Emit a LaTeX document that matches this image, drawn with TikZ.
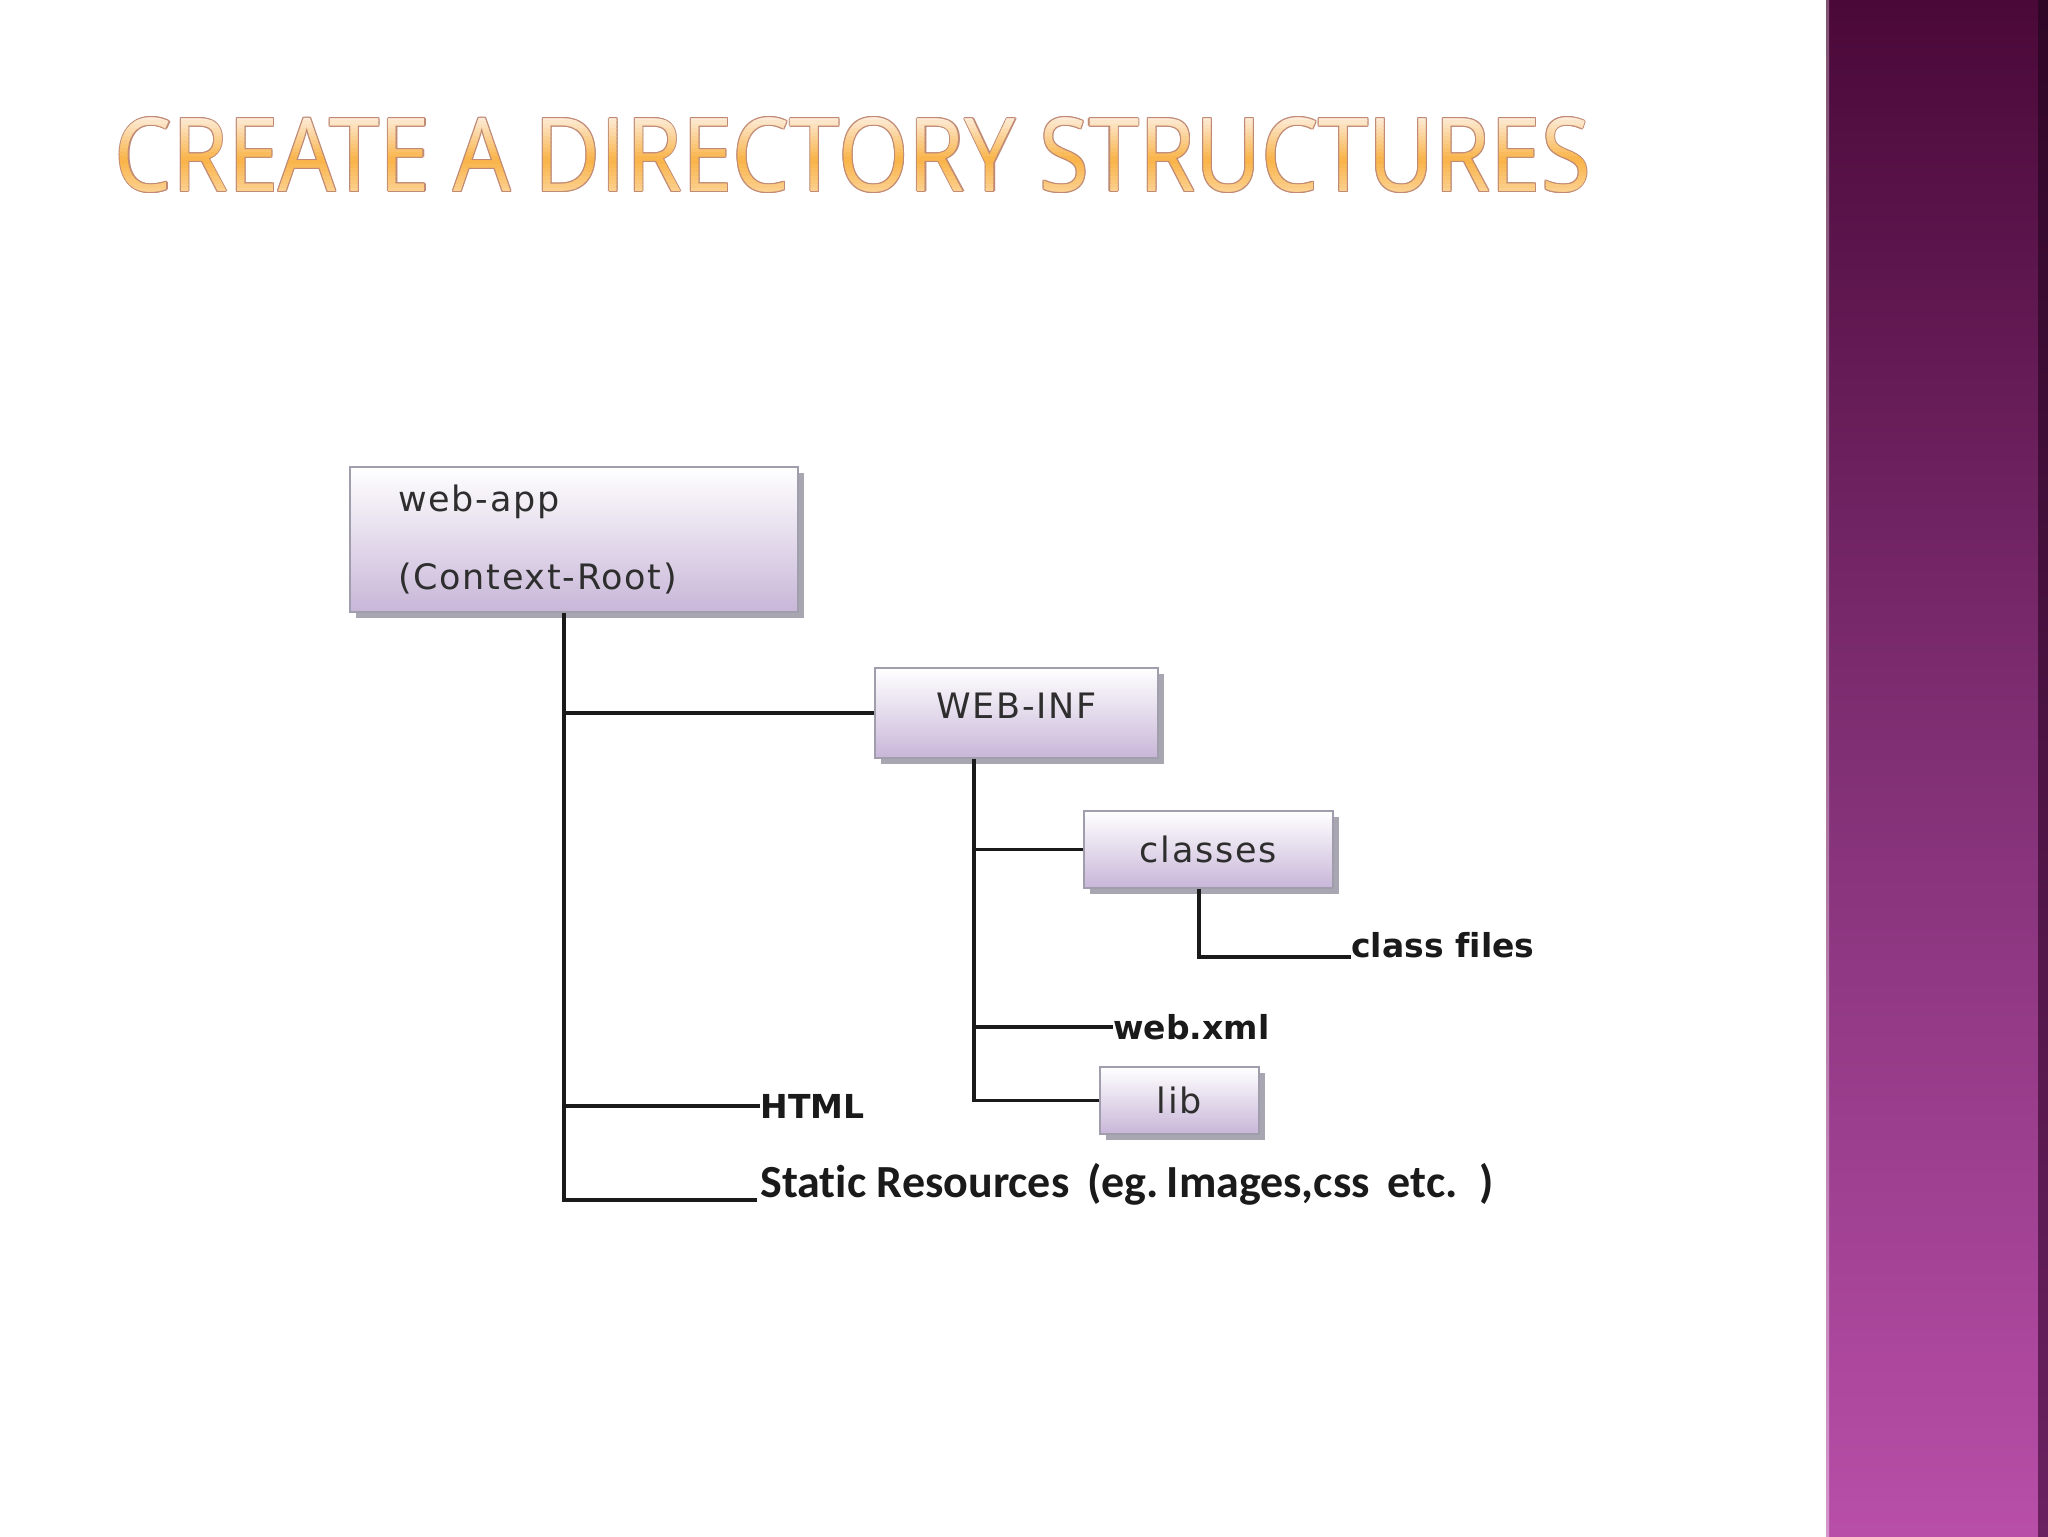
\documentclass[tikz,border=0pt]{standalone}
\usepackage{graphicx}
\usepackage{fontspec}
\setmainfont[Ligatures=NoCommon]{DejaVu Sans}
\newfontfamily\boxfont[LetterSpace=5]{DejaVu Sans}
\newfontfamily\titlefont{Open Sans}
\newfontfamily\calfont[Ligatures=NoCommon]{Carlito}
\usetikzlibrary{shadows,calc}
\definecolor{lav}{HTML}{C8B6D8}
\definecolor{boxborder}{HTML}{A09EAC}
\definecolor{shadowc}{HTML}{A8A6B0}
\definecolor{boxtext}{HTML}{2E2E2E}
\definecolor{labtext}{HTML}{1A1A1A}
\definecolor{linec}{HTML}{1A1A1A}
\definecolor{bartop}{HTML}{4A0838}
\definecolor{barmid}{HTML}{823076}
\definecolor{barbot}{HTML}{B84EA8}
\definecolor{edgetop}{HTML}{2E0626}
\definecolor{edgebot}{HTML}{6A2260}
\definecolor{tittop}{HTML}{FDEEDF}
\definecolor{titmid}{HTML}{F9B347}
\definecolor{titbot}{HTML}{FCD59A}
\definecolor{titline}{HTML}{C08A74}
\newcommand{\titletxt}{\resizebox{738pt}{37pt}{\titlefont CREATE A DIRECTORY STRUCTURES}}

\begin{document}
\begin{tikzpicture}[x=0.5pt,y=-0.5pt,
  dirbox/.style={draw=boxborder, line width=0.8pt, top color=white, bottom color=lav,
    inner sep=0pt, text=boxtext, font=\fontsize{17.5}{20}\selectfont\boxfont,
    drop shadow={shadow xshift=2.8pt, shadow yshift=-2.8pt, fill=shadowc, opacity=1}},
  lab/.style={inner sep=0pt, text=labtext, font=\fontsize{16.5}{19}\selectfont\bfseries},
  titlestyle/.style={inner sep=0pt},
  conn/.style={draw=linec, line width=1.6pt}]
\useasboundingbox (0,0) rectangle (2048,1536);
\fill[white] (0,0) rectangle (2048,1536);

% side bar
\fill[top color=bartop, bottom color=barbot, middle color=barmid] (1826,0) rectangle (2048,1536);
\fill[top color=edgetop, bottom color=edgebot] (2038,0) rectangle (2048,1536);
\fill[top color=bartop!70!white, bottom color=barbot!60!white] (1826,0) rectangle (1829,1536);

% title: outline then banded gradient fill
\foreach \dx/\dy [count=\k] in {1.1/0,-1.1/0,0/1.1,0/-1.1,0.8/0.8,-0.8/0.8,0.8/-0.8,-0.8/-0.8} {
  \node[titlestyle, text=titline] (titleoutline\k) at (853+\dx,155+\dy) {\titletxt};
}
\foreach \i in {0,...,19} {
  \pgfmathsetmacro{\ya}{116+\i*4}
  \pgfmathsetmacro{\yb}{\ya+4.4}
  \pgfmathsetmacro{\tt}{(\i+0.5)/20}
  \pgfmathsetmacro{\pp}{\tt<0.55 ? 100*\tt/0.55 : 100*(\tt-0.55)/0.45}
  \ifdim \tt pt<0.55pt \colorlet{bandc}{titmid!\pp!tittop}\else\colorlet{bandc}{titbot!\pp!titmid}\fi
  \begin{scope}
    \clip (0,\ya) rectangle (1800,\yb);
    \node[titlestyle, text=bandc] (titleband\i) at (853,155) {\titletxt};
  \end{scope}
}

% boxes
\node[dirbox, minimum width=224pt, minimum height=72.5pt, align=left, text width=176pt, inner xsep=24pt]
  (webapp) at (574,539.5) {web-app\\[19pt](Context-Root)};
\node[dirbox, minimum width=141.5pt, minimum height=45pt] (webinf) at (1016.5,713) {\raisebox{7pt}{WEB-INF}};
\node[dirbox, minimum width=124.5pt, minimum height=38.5pt] (classes) at (1208.5,849.5) {classes};
\node[dirbox, minimum width=79.5pt, minimum height=33.5pt] (lib) at (1179.5,1100.5) {lib};

% labels
\node[lab, anchor=base west] (classfiles) at (1351,957) {class files};
\node[lab, anchor=west] (webxml) at (1113,1027) {web.xml};
\node[lab, anchor=west] (html) at (760,1106) {HTML};
\node[inner sep=0pt, text=labtext, anchor=base west, font=\fontsize{23}{26}\selectfont\calfont\bfseries]
  (static) at (760,1197) {Static Resources\, (eg.\,Images,css\, etc.\, )};

% branch coordinates
\coordinate (t0) at (564,612);
\coordinate (w0) at (974,758);
\coordinate (c0) at (1199,888);
\coordinate (sEnd) at (757,1200);

% connectors
\draw[conn] (webapp.south -| t0) -- (t0 |- sEnd) -- (sEnd);
\draw[conn] (t0 |- webinf.west) -- (webinf.west);
\draw[conn] (t0 |- html.west) -- (html.west);
\draw[conn] (webinf.south -| w0) -- (w0 |- lib.west) -- (lib.west);
\draw[conn] (w0 |- classes.west) -- (classes.west);
\draw[conn] (w0 |- webxml.west) -- (webxml.west);
\draw[conn] (classes.south -| c0) -- (c0 |- classfiles.base west) -- (classfiles.base west);
\end{tikzpicture}
\end{document}
